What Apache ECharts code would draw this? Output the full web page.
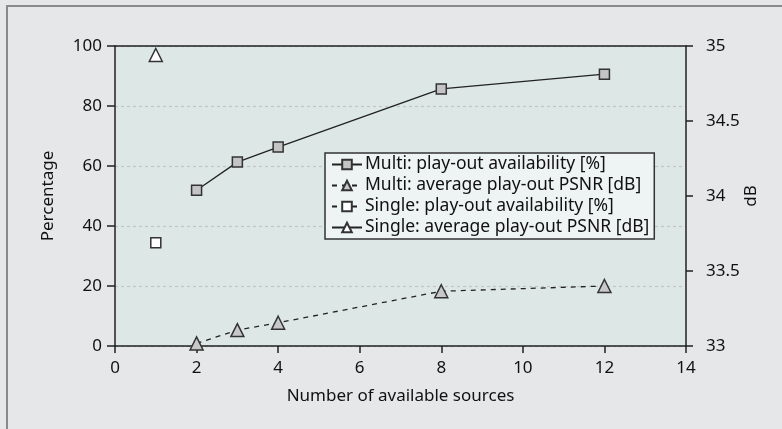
<!DOCTYPE html>
<html>
<head>
<meta charset="utf-8">
<script src="https://cdn.jsdelivr.net/npm/echarts@6/dist/echarts.min.js"></script>
<style>html,body{margin:0;padding:0;background:#e6e7e8;}#c{width:782px;height:429px;}</style>
</head>
<body>
<div id="c"></div>
<script>
const seriesNames = [
  'Multi: play-out availability [%]',
  'Multi: average play-out PSNR [dB]',
  'Single: play-out availability [%]',
  'Single: average play-out PSNR [dB]'
];
const multiX = [2, 3, 4, 8, 12];
const multiAvail = [51.9, 61.3, 66.3, 85.7, 90.6];
const multiPSNR = [33.017, 33.106, 33.155, 33.365, 33.40];
const singleX = [1];
const singleAvail = [34.4];
const singlePSNR = [34.94];
const xTicks = [0, 2, 4, 6, 8, 10, 12, 14];
const leftTicks = [0, 20, 40, 60, 80, 100];
const rightTicks = [33, 33.5, 34, 34.5, 35];

const pair = (xs, ys) => xs.map((x, i) => [x, ys[i]]);
const FONT = 'Noto Sans';
const txt = { color: '#111', fontFamily: FONT, fontSize: 17 };

const chart = echarts.init(document.getElementById('c'), null, { renderer: 'canvas' });
chart.setOption({
  animation: false,
  backgroundColor: '#e6e7e8',
  graphic: [{
    type: 'rect', shape: { x: 7, y: 6, width: 820, height: 460 },
    style: { fill: 'none', stroke: '#8a8a8a', lineWidth: 2 }, z: -1, silent: true
  }],
  grid: { left: 115, right: 96, top: 46, bottom: 83, show: true, backgroundColor: '#dde8e6', borderWidth: 0 },
  legend: {
    orient: 'vertical', left: 325, top: 153,
    itemWidth: 30, itemHeight: 12, itemGap: 2,
    padding: [2, 5, 2, 6],
    backgroundColor: '#eef3f3', borderColor: '#333', borderWidth: 1.5,
    textStyle: { color: '#111', fontFamily: FONT, fontSize: 17.5, lineHeight: 19, padding: [0, 0, 0, -2] },
    data: seriesNames
  },
  xAxis: [{
    type: 'value', min: xTicks[0], max: xTicks[xTicks.length - 1], interval: 2,
    name: 'Number of available sources', nameLocation: 'middle', nameGap: 42,
    nameTextStyle: txt,
    axisLine: { onZero: false, lineStyle: { color: '#222', width: 1.5 } },
    axisTick: { show: true, length: 7, lineStyle: { color: '#222', width: 1.5 } },
    axisLabel: Object.assign({ margin: 14 }, txt),
    splitLine: { show: false }
  }, {
    type: 'value', position: 'top', min: 0, max: 14,
    axisLine: { show: true, onZero: false, lineStyle: { color: '#222', width: 1.5 } },
    axisTick: { show: false }, axisLabel: { show: false }, splitLine: { show: false }
  }],
  yAxis: [{
    type: 'value', min: leftTicks[0], max: leftTicks[leftTicks.length - 1], interval: 20,
    name: 'Percentage', nameLocation: 'middle', nameGap: 58, nameTextStyle: txt,
    axisLine: { show: true, onZero: false, lineStyle: { color: '#222', width: 1.5 } },
    axisTick: { show: true, length: 8, lineStyle: { color: '#222', width: 1.5 } },
    axisLabel: Object.assign({ margin: 13 }, txt),
    splitLine: { show: true, lineStyle: { color: '#bfc6c6', type: [3, 3], width: 1.2 } }
  }, {
    type: 'value', position: 'right', min: rightTicks[0], max: rightTicks[rightTicks.length - 1], interval: 0.5,
    name: 'dB', nameLocation: 'middle', nameGap: 57, nameRotate: 90, nameMoveOverlap: false, nameTextStyle: txt,
    axisLine: { show: true, onZero: false, lineStyle: { color: '#222', width: 1.5 } },
    axisTick: { show: true, length: 7, lineStyle: { color: '#222', width: 1.5 } },
    axisLabel: Object.assign({ margin: 20 }, txt),
    splitLine: { show: false }
  }],
  series: [{
    name: seriesNames[0], type: 'line', yAxisIndex: 0,
    data: pair(multiX, multiAvail),
    symbol: 'rect', symbolSize: 10,
    itemStyle: { color: '#c4c4c4', borderColor: '#333', borderWidth: 1.5 },
    lineStyle: { color: '#222', width: 1.3 }
  }, {
    name: seriesNames[1], type: 'line', yAxisIndex: 1,
    data: pair(multiX, multiPSNR),
    symbol: 'triangle', symbolSize: [13, 13],
    itemStyle: { color: '#c8c8c8', borderColor: '#333', borderWidth: 1.5 },
    lineStyle: { color: '#222', width: 1.3, type: [5, 5] }
  }, {
    name: seriesNames[2], type: 'line', yAxisIndex: 0,
    data: pair(singleX, singleAvail),
    symbol: 'rect', symbolSize: 10,
    itemStyle: { color: '#ffffff', borderColor: '#333', borderWidth: 1.5 },
    lineStyle: { color: '#222', width: 1.3, type: [5, 5] }
  }, {
    name: seriesNames[3], type: 'line', yAxisIndex: 1,
    data: pair(singleX, singlePSNR),
    symbol: 'triangle', symbolSize: [13, 13],
    itemStyle: { color: '#ffffff', borderColor: '#333', borderWidth: 1.5 },
    lineStyle: { color: '#222', width: 3 }
  }]
});
</script>
</body>
</html>
